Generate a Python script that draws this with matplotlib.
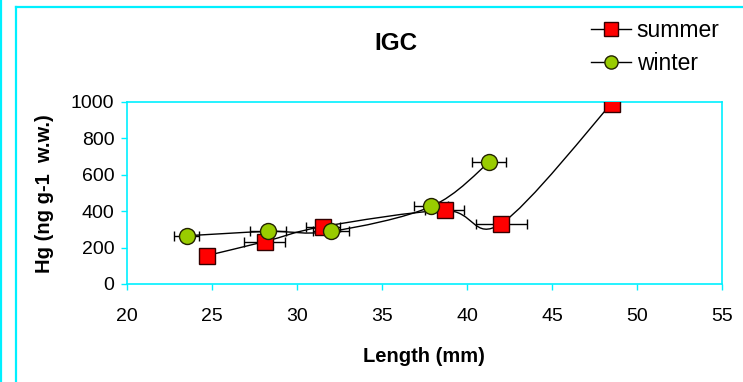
import matplotlib
matplotlib.use('Agg')
import matplotlib.pyplot as plt
import numpy as np
from matplotlib.path import Path
from matplotlib.patches import PathPatch
from matplotlib.lines import Line2D

plt.rcParams['font.family'] = ['Liberation Sans', 'DejaVu Sans']

# mean length (mm), Hg (ng/g w.w.) and length SD for each season
summer_len = [24.7, 28.1, 31.5, 38.7, 42.0, 48.5]
summer_hg = [156, 233, 315, 404, 331, 991]
summer_sd = [0.4, 1.2, 1.0, 1.15, 1.5, 0.4]

winter_len = [23.5, 28.3, 32.0, 37.9, 41.3]
winter_hg = [265, 289, 289, 426, 669]
winter_sd = [0.75, 1.05, 1.05, 1.0, 1.0]

x_ticks = [20, 25, 30, 35, 40, 45, 50, 55]
y_ticks = [0, 200, 400, 600, 800, 1000]

CYAN = '#00F0FF'


def smooth_path(xs, ys):
    # Catmull-Rom style cubic bezier through the points (spreadsheet "smoothed line")
    pts = np.column_stack([xs, ys]).astype(float)
    n = len(pts)
    verts = [pts[0]]
    codes = [Path.MOVETO]
    for i in range(n - 1):
        p0 = pts[max(i - 1, 0)]
        p1 = pts[i]
        p2 = pts[i + 1]
        p3 = pts[min(i + 2, n - 1)]
        verts += [p1 + (p2 - p0) / 6, p2 - (p3 - p1) / 6, p2]
        codes += [Path.CURVE4] * 3
    return Path(verts, codes)


fig = plt.figure(figsize=(7.43, 3.82), dpi=100)
ax = fig.add_axes([127 / 743, 1 - 284 / 382, (722 - 127) / 743, (284 - 102) / 382])

for xs, ys in [(summer_len, summer_hg), (winter_len, winter_hg)]:
    ax.add_patch(PathPatch(smooth_path(xs, ys), facecolor='none',
                           edgecolor='black', lw=1.0, zorder=2))

ax.errorbar(summer_len, summer_hg, xerr=summer_sd, fmt='none', ecolor='black',
            elinewidth=1.0, capsize=3.3, capthick=1.0, zorder=2)
ax.errorbar(winter_len, winter_hg, xerr=winter_sd, fmt='none', ecolor='black',
            elinewidth=1.0, capsize=3.3, capthick=1.0, zorder=2)

ax.plot(summer_len, summer_hg, ls='none', marker='s', ms=12, mfc='#FF0000',
        mec='#330000', mew=1.0, zorder=3)
ax.plot(winter_len, winter_hg, ls='none', marker='o', ms=11.5, mfc='#99CC00',
        mec='#222200', mew=1.0, zorder=4)

ax.set_xlim(20, 55)
ax.set_ylim(0, 1000)
ax.set_xticks(x_ticks)
ax.set_yticks(y_ticks)
for s in ax.spines.values():
    s.set_color(CYAN)
    s.set_linewidth(1.2)
ax.tick_params(axis='both', colors=CYAN, labelcolor='black', labelsize=14,
               length=4.5, width=1.0)
ax.tick_params(axis='x', pad=12.5)
ax.tick_params(axis='y', pad=4.5)

fig.text(396 / 743, 1 - 43 / 382, 'IGC', ha='center', va='center',
         fontsize=17.5, fontweight='bold')
fig.text(424 / 743, 1 - 356 / 382, 'Length (mm)', ha='center', va='center',
         fontsize=14.5, fontweight='bold')
fig.text(45 / 743, 1 - 194 / 382, 'Hg (ng g-1  w.w.)', ha='center', va='center',
         rotation=90, fontsize=14.5, fontweight='bold')

handles = [
    Line2D([], [], color='black', lw=1.0, marker='s', ms=9.5, mfc='#FF0000', mec='#330000'),
    Line2D([], [], color='black', lw=1.0, marker='o', ms=9.5, mfc='#99CC00', mec='#222200'),
]
fig.legend(handles, ['summer', 'winter'], loc='upper left',
           bbox_to_anchor=(591 / 743, 1 - 19 / 382), frameon=False,
           fontsize=16.5, borderpad=0, borderaxespad=0, handlelength=1.75,
           handletextpad=0.25, labelspacing=0.45)

# cyan frame lines around the chart area
fig.add_artist(Line2D([1 / 743, 1 / 743], [0, 1], color=CYAN, lw=1.6))
fig.add_artist(Line2D([16 / 743, 16 / 743], [0, 1 - 7 / 382], color=CYAN, lw=1.6))
fig.add_artist(Line2D([16 / 743, 1], [1 - 7 / 382, 1 - 7 / 382], color=CYAN, lw=1.6))

fig.savefig('out.png', dpi=100)
